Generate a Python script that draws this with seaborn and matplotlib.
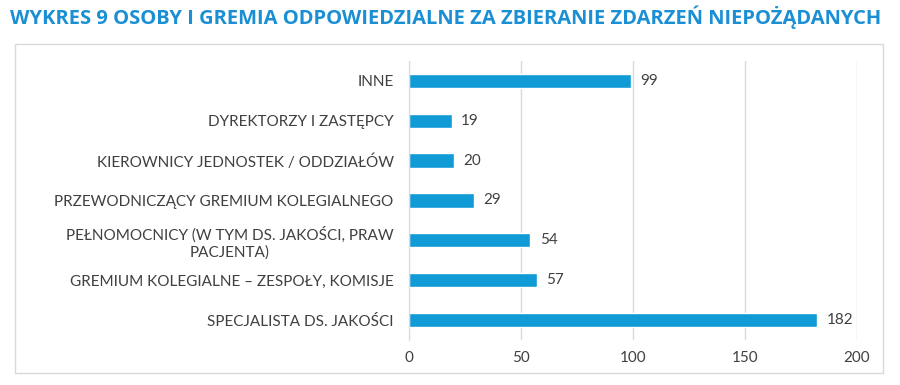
import matplotlib.pyplot as plt
import seaborn as sns
import pandas as pd
from matplotlib.patches import Rectangle

# --- Data ---
categories = [
    "INNE",
    "DYREKTORZY I ZASTĘPCY",
    "KIEROWNICY JEDNOSTEK / ODDZIAŁÓW",
    "PRZEWODNICZĄCY GREMIUM KOLEGIALNEGO",
    "PEŁNOMOCNICY (W TYM DS. JAKOŚCI, PRAW\nPACJENTA)",
    "GREMIUM KOLEGIALNE – ZESPOŁY, KOMISJE",
    "SPECJALISTA DS. JAKOŚCI",
]
values = [99, 19, 20, 29, 54, 57, 182]
x_ticks = [0, 50, 100, 150, 200]

title = "WYKRES 9 OSOBY I GREMIA ODPOWIEDZIALNE ZA ZBIERANIE ZDARZEŃ NIEPOŻĄDANYCH"

df = pd.DataFrame({"kategoria": categories, "liczba": values})

# --- Style ---
sns.set_style("white")
plt.rcParams["font.family"] = ["Lato", "DejaVu Sans"]

bar_color = "#119bd6"
text_color = "#404040"
grid_color = "#d9d9d9"

fig = plt.figure(figsize=(9, 3.85), dpi=100)
ax = fig.add_axes([0.4544, 0.117, 0.4978, 0.7246])

sns.barplot(data=df, x="liczba", y="kategoria", color=bar_color,
            width=0.36, saturation=1, ax=ax, orient="h")

ax.set_xlim(0, 200)
ax.set_xticks(x_ticks)
ax.set_xlabel("")
ax.set_ylabel("")
ax.xaxis.grid(True, color=grid_color, linewidth=1)
ax.set_axisbelow(True)
for s in ["top", "right", "bottom"]:
    ax.spines[s].set_visible(False)
ax.spines["left"].set_color(grid_color)
ax.tick_params(axis="both", length=0, labelsize=11, colors=text_color)
ax.tick_params(axis="y", pad=11)
ax.tick_params(axis="x", pad=8)
for lbl in ax.get_yticklabels():
    lbl.set_multialignment("center")

# value labels
for i, v in enumerate(values):
    ax.annotate(str(v), (v, i), xytext=(7, 0), textcoords="offset points",
                va="center", ha="left", fontsize=11, color=text_color)

# chart border
fig.patches.append(Rectangle((15 / 900, 1 - 373 / 385), 868 / 900, 329 / 385,
                             transform=fig.transFigure, fill=False,
                             edgecolor=grid_color, linewidth=1))

fig.text(10 / 900, 1 - 17 / 385, title, ha="left", va="center",
         fontsize=14.5, fontweight="bold", color="#1a8fd4",
         family=["Open Sans", "DejaVu Sans"])

fig.savefig("out.png", dpi=100)
